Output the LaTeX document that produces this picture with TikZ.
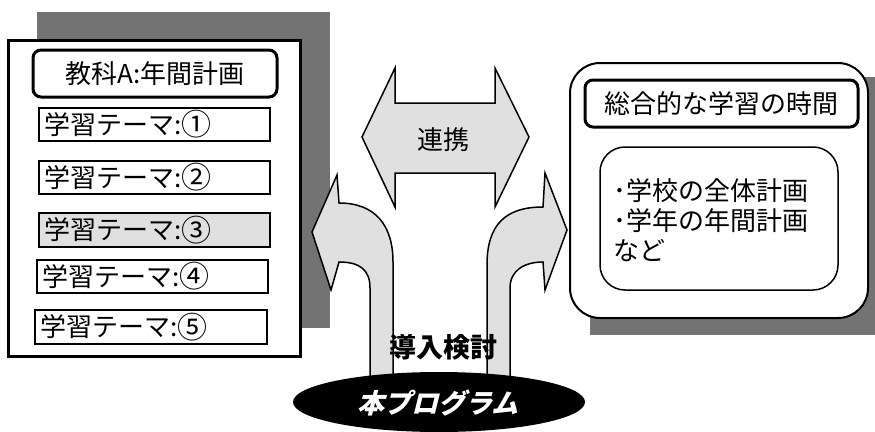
\documentclass[tikz,border=0pt]{standalone}
\usepackage{fontspec}
\setmainfont{Noto Sans CJK JP}
\newfontfamily\jpslant{Noto Sans CJK JP}[FakeSlant=0.25]
\usetikzlibrary{shapes.geometric}
\definecolor{shadowgray}{gray}{0.45}
\definecolor{dotfill}{gray}{0.88}
\newcommand{\circnum}[1]{\raisebox{-1.5pt}{\fontsize{30pt}{30pt}\selectfont #1}}
\tikzset{
  shadowbox/.style={fill=shadowgray},
  heavy/.style={draw=black,line width=3pt},
  themebox/.style={draw=black,line width=1.5pt,fill=white},
  arrowshape/.style={draw=black,line width=1.5pt,fill=dotfill},
  jptext/.style={inner sep=0pt,font=\fontsize{26pt}{30pt}\selectfont},
}
\begin{document}
\begin{tikzpicture}[x=1pt,y=-1pt]
\useasboundingbox (0,0) rectangle (875,431);
% left panel
\fill[shadowbox] (37,12) rectangle (330,328);
\draw[heavy,fill=white] (8,40) rectangle (300,356);
\draw[heavy,rounded corners=8pt] (33,50) rectangle (277,97);
\node[jptext] (ttl) at (155,73.5) {教科A:年間計画};
\draw[themebox] (39,108) rectangle (270,141);
\node[jptext,anchor=west] (t1) at (44,124.5) {学習テーマ:\circnum{①}};
\draw[themebox] (39,161) rectangle (270,194);
\node[jptext,anchor=west] (t2) at (44,177.5) {学習テーマ:\circnum{②}};
\draw[themebox,fill=dotfill] (39,213) rectangle (270,247);
\node[jptext,anchor=west] (t3) at (44,230) {学習テーマ:\circnum{③}};
\draw[themebox] (37,260) rectangle (268,293);
\node[jptext,anchor=west] (t4) at (42,276.5) {学習テーマ:\circnum{④}};
\draw[themebox] (35,310) rectangle (267,344);
\node[jptext,anchor=west] (t5) at (40,327) {学習テーマ:\circnum{⑤}};
% right panel
\fill[shadowbox] (590,77) rectangle (875,335);
\draw[draw=black,line width=2pt,fill=white,rounded corners=30pt] (570,63) rectangle (868,318);
\draw[heavy,rounded corners=8pt] (585,80) rectangle (858,127);
\node[jptext] (rttl) at (721.5,103.5) {総合的な学習の時間};
\draw[draw=black,line width=1.5pt,rounded corners=25pt] (600,147) rectangle (838,290);
\node[jptext,anchor=west,align=left] (rlist) at (613,220) {･学校の全体計画\\･学年の年間計画\\など};
% double arrow
\draw[arrowshape] (362,137) -- (395,68) -- (395,103) -- (495,103) -- (495,68) -- (529,137)
  -- (495,207) -- (495,173) -- (395,173) -- (395,207) -- cycle;
\node[jptext] (renkei) at (443,140) {連携};
% left curved arrow
\draw[arrowshape] (370,392) -- (370,288) .. controls (370,270) and (360,262) .. (339,262)
  -- (331,290) -- (312,232) -- (337,175) -- (339,203)
  .. controls (375,203) and (393,225) .. (393,262) -- (393,392) -- cycle;
% right curved arrow
\draw[arrowshape] (487,392) -- (487,265) .. controls (487,225) and (505,207) .. (543,207)
  -- (545,173) -- (567,230) -- (545,290) -- (543,262)
  .. controls (525,262) and (510,270) .. (510,288) -- (510,392) -- cycle;
% program ellipse
\node[ellipse,fill=black,minimum width=292pt,minimum height=60pt,inner sep=0pt] (prog) at (439,402) {};
\node[inner sep=0pt,text=white,font=\jpslant\bfseries\fontsize{27pt}{30pt}\selectfont] (progtxt) at (438,403) {本プログラム};
\node[jptext,font=\bfseries\fontsize{27pt}{30pt}\selectfont] (dounyu) at (443,347) {導入検討};
\end{tikzpicture}
\end{document}
